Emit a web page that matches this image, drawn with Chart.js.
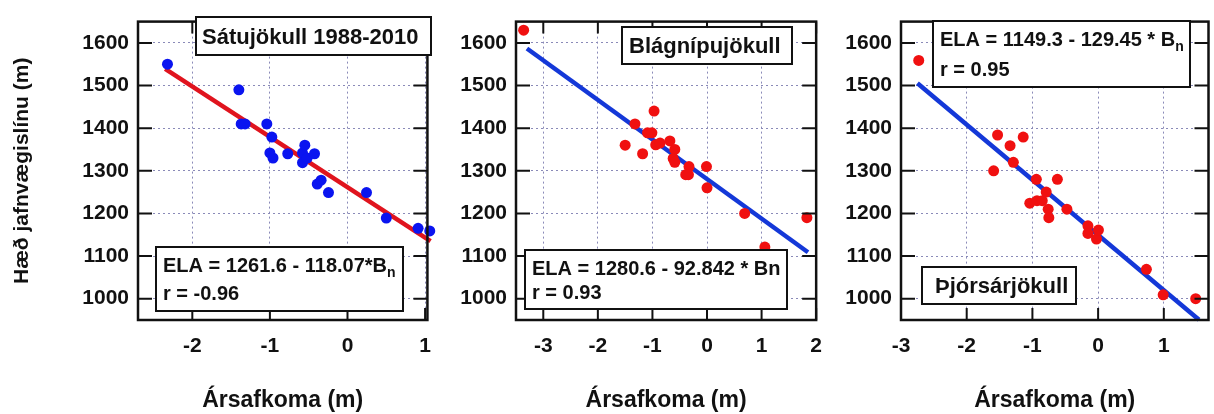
<!DOCTYPE html>
<html><head><meta charset="utf-8">
<script src="https://cdn.jsdelivr.net/npm/chart.js@4.4.1/dist/chart.umd.min.js"></script>
<style>
html,body{margin:0;padding:0;background:#fff;}
#wrap{position:relative;width:1214px;height:414px;overflow:hidden;background:#fff;}
canvas{position:absolute;top:0;}
</style></head><body>
<div id="wrap">
<canvas id="c1" width="445" height="414" style="left:0px"></canvas>
<canvas id="c2" width="391" height="414" style="left:445px"></canvas>
<canvas id="c3" width="378" height="414" style="left:836px"></canvas>
</div>
<script>
// ---- Data ----
const yTickValues = [1000, 1100, 1200, 1300, 1400, 1500, 1600];

// Sátujökull 1988-2010
const satuX = [-2.32, -1.40, -1.37, -1.32, -1.04, -0.975, -1.00, -0.96, -0.77, -0.58, -0.55, -0.58, -0.52, -0.425, -0.39, -0.34, -0.245, 0.245, 0.50, 0.91, 1.06];
const satuY = [1550, 1490, 1410, 1410, 1410, 1379, 1342, 1330, 1340, 1342, 1360, 1319, 1330, 1340, 1269, 1278, 1249, 1249, 1189, 1165, 1159];
const satuFit = [1261.6, -118.07];
const satuFitX = [-2.35, 1.07];

// Blágnípujökull
const blaX = [-3.36, -1.50, -1.32, -1.18, -1.09, -1.01, -0.97, -0.94, -0.86, -0.68, -0.59, -0.62, -0.59, -0.33, -0.39, -0.34, -0.01, 0.00, 0.69, 1.06, 1.83];
const blaY = [1630, 1360, 1410, 1340, 1389, 1389, 1440, 1361, 1365, 1370, 1350, 1329, 1320, 1310, 1291, 1291, 1310, 1260, 1200, 1121, 1190];
const blaFit = [1280.6, -92.842];
const blaFitX = [-3.3, 1.85];

// Þjórsárjökull
const thjX = [-2.73, -1.59, -1.53, -1.34, -1.29, -1.14, -1.04, -0.94, -0.93, -0.85, -0.76, -0.75, -0.79, -0.62, -0.475, -0.155, -0.155, -0.025, 0.005, 0.735, 0.99, 1.485];
const thjY = [1559, 1300, 1384, 1359, 1320, 1379, 1224, 1280, 1230, 1230, 1210, 1190, 1250, 1280, 1210, 1171, 1153, 1140, 1161, 1069, 1009, 1000];
const thjFit = [1149.3, -129.45];
const thjFitX = [-2.75, 1.535];

const xTitle = 'Ársafkoma (m)';
const yTitle = 'Hæð jafnvægislínu (m)';

// ---- Helpers ----
const FONT = '"Liberation Sans", Arial, Helvetica, sans-serif';

const frameAndBoxes = {
  id: 'frameAndBoxes',
  afterDraw(chart, args, opts) {
    const {ctx, chartArea: a, scales: {x, y}} = chart;
    ctx.save();
    ctx.strokeStyle = '#111';
    ctx.lineWidth = 2.5;
    ctx.strokeRect(a.left, a.top, a.right - a.left, a.bottom - a.top);
    ctx.lineWidth = 2;
    ctx.beginPath();
    const L = 12;
    x.ticks.forEach(t => {
      const px = x.getPixelForValue(t.value);
      ctx.moveTo(px, a.bottom); ctx.lineTo(px, a.bottom - L);
      ctx.moveTo(px, a.top); ctx.lineTo(px, a.top + L);
    });
    y.ticks.forEach(t => {
      const py = y.getPixelForValue(t.value);
      ctx.moveTo(a.left, py); ctx.lineTo(a.left + L + 2, py);
      ctx.moveTo(a.right, py); ctx.lineTo(a.right - L - 2, py);
    });
    ctx.stroke();
    (opts.boxes || []).forEach(b => {
      ctx.fillStyle = '#fff';
      ctx.fillRect(b.x, b.y, b.w, b.h);
      ctx.strokeStyle = '#111';
      ctx.lineWidth = 2;
      ctx.strokeRect(b.x, b.y, b.w, b.h);
      ctx.fillStyle = '#111';
      ctx.textBaseline = 'alphabetic';
      ctx.textAlign = 'left';
      b.lines.forEach(line => {
        let cx = b.x + line.dx;
        line.parts.forEach(p => {
          const size = p.sub ? 14 : line.size;
          ctx.font = 'bold ' + size + 'px ' + FONT;
          ctx.fillText(p.t, cx, b.y + line.dy + (p.sub ? 5 : 0));
          cx += ctx.measureText(p.t).width;
        });
      });
    });
    ctx.restore();
  }
};

function makeChart(id, xs, ys, ptColor, fit, fitX, lineColor, xr, yAxisW, padRight, showYTitle, boxes) {
  const pts = xs.map((v, i) => ({x: v, y: ys[i]}));
  const linePts = fitX.map(v => ({x: v, y: fit[0] + fit[1] * v}));
  return new Chart(document.getElementById(id), {
    type: 'scatter',
    data: {
      datasets: [
        {data: pts, backgroundColor: ptColor, borderWidth: 0, pointRadius: 5.5, order: 0, clip: false},
        {data: linePts, showLine: true, borderColor: lineColor, borderWidth: 4.5, pointRadius: 0, order: 1, clip: false}
      ]
    },
    options: {
      responsive: false,
      animation: false,
      events: [],
      layout: {padding: {left: 0, right: padRight, top: 10, bottom: 0}},
      plugins: {legend: {display: false}, tooltip: {enabled: false}, frameAndBoxes: {boxes}},
      scales: {
        x: {
          type: 'linear', min: xr[0], max: xr[1],
          afterFit(s) { s.height = 94; },
          ticks: {stepSize: 1, includeBounds: false, padding: 14, color: '#111', maxRotation: 0,
                  font: {family: FONT, size: 21, weight: 'bold'}, callback: v => String(v)},
          grid: {color: '#8a8ab8', lineWidth: 1, drawTicks: false},
          border: {display: false, dash: [2, 3]},
          title: {display: true, text: xTitle, color: '#111', padding: {top: 0, bottom: 0},
                  font: {family: FONT, size: 23, weight: 'bold'}}
        },
        y: {
          type: 'linear', min: 950, max: 1650,
          afterFit(s) { s.width = yAxisW; },
          afterBuildTicks(s) { s.ticks = yTickValues.map(v => ({value: v})); },
          ticks: {padding: 9, color: '#111', font: {family: FONT, size: 21, weight: 'bold'}, callback: v => String(v)},
          grid: {color: '#8a8ab8', lineWidth: 1, drawTicks: false},
          border: {display: false, dash: [2, 3]},
          title: {display: showYTitle, text: yTitle, color: '#111', padding: {top: 10, bottom: 0},
                  font: {family: FONT, size: 21, weight: 'bold'}}
        }
      }
    },
    plugins: [frameAndBoxes]
  });
}

makeChart('c1', satuX, satuY, '#0a14f0', satuFit, satuFitX, '#e0141e', [-2.7, 1.03], 138, 9, true, [
  {x: 196, y: 17, w: 235, h: 38, lines: [{dx: 6, dy: 27, size: 22, parts: [{t: 'Sátujökull 1988-2010'}]}]},
  {x: 156, y: 247, w: 247, h: 64, lines: [
    {dx: 7, dy: 25, size: 20, parts: [{t: 'ELA = 1261.6 - 118.07*B'}, {t: 'n', sub: true}]},
    {dx: 7, dy: 53, size: 20, parts: [{t: 'r = -0.96'}]}
  ]}
]);

makeChart('c2', blaX, blaY, '#f01010', blaFit, blaFitX, '#1438d8', [-3.5, 2.0], 71, 10, false, [
  {x: 622 - 445, y: 27, w: 170, h: 37, lines: [{dx: 7, dy: 26, size: 22, parts: [{t: 'Blágnípujökull'}]}]},
  {x: 525 - 445, y: 250, w: 262, h: 59, lines: [
    {dx: 7, dy: 25, size: 20, parts: [{t: 'ELA = 1280.6 - 92.842 * Bn'}]},
    {dx: 7, dy: 49, size: 20, parts: [{t: 'r = 0.93'}]}
  ]}
]);

makeChart('c3', thjX, thjY, '#f01010', thjFit, thjFitX, '#1438d8', [-3.0, 1.68], 65, 4, false, [
  {x: 933 - 836, y: 21, w: 257, h: 66, lines: [
    {dx: 7, dy: 25, size: 20, parts: [{t: 'ELA = 1149.3 - 129.45 * B'}, {t: 'n', sub: true}]},
    {dx: 7, dy: 55, size: 20, parts: [{t: 'r = 0.95'}]}
  ]},
  {x: 922 - 836, y: 267, w: 154, h: 37, lines: [{dx: 13, dy: 26, size: 22, parts: [{t: 'Þjórsárjökull'}]}]}
]);
</script>
</body></html>
